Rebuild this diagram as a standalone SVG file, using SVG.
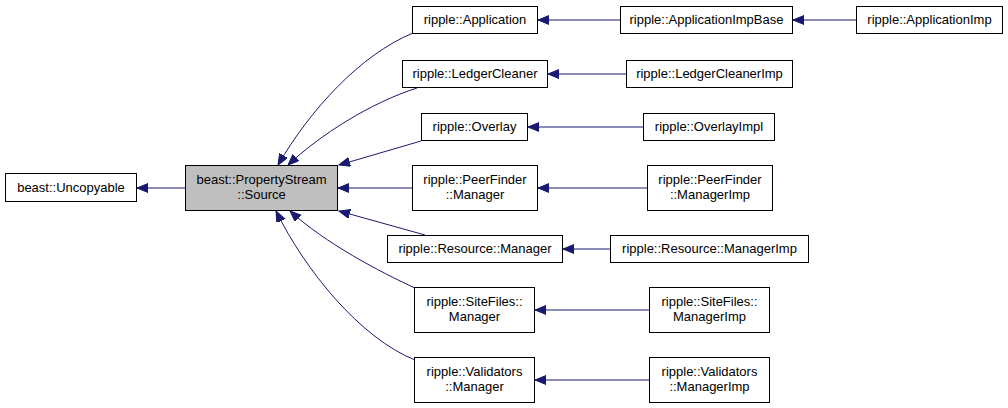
<svg xmlns="http://www.w3.org/2000/svg" width="1008" height="408" viewBox="0 0 1008 408">
<defs>
<style>
.box{fill:#ffffff;stroke:#000000;stroke-width:1}
.main{fill:#bfbfbf;stroke:#000000;stroke-width:1}
.t{font-family:"Liberation Sans",Arial,sans-serif;font-size:13px;fill:#000000;text-anchor:middle}
.e{fill:none;stroke:#191970;stroke-width:1;marker-end:url(#arr)}
</style>
<marker id="arr" markerUnits="userSpaceOnUse" markerWidth="12" markerHeight="10" refX="11" refY="4.5" orient="auto">
<path d="M0,0 L11,4.5 L0,9 z" fill="#191970" stroke="#191970" stroke-width="1"/>
</marker>
</defs>
<rect width="1008" height="408" fill="#ffffff"/>
<g id="connectors">
<path class="e" d="M185,188 H137"/>
<path class="e" d="M413,33 C360,55 310,110 278,165"/>
<path class="e" d="M417,88 C370,103 320,135 288,165"/>
<path class="e" d="M421,141 L339,165"/>
<path class="e" d="M412,188 H338"/>
<path class="e" d="M425,235 L339,211"/>
<path class="e" d="M415,288 C380,272 325,243 290,211"/>
<path class="e" d="M415,360 C360,338 305,270 276,211"/>
<path class="e" d="M620,20 H538"/>
<path class="e" d="M856,20 H793"/>
<path class="e" d="M626,74 H548"/>
<path class="e" d="M643,127 H528"/>
<path class="e" d="M647,188 H538"/>
<path class="e" d="M610,249 H563"/>
<path class="e" d="M649,310 H535"/>
<path class="e" d="M649,380 H535"/>
</g>
<g id="n_uncopyable"><rect class="box" x="5.5" y="173.5" width="131" height="28"/><text class="t" x="71" y="191.5">beast::Uncopyable</text></g>
<g id="n_source"><rect class="main" x="185.5" y="165.5" width="152" height="45"/><text class="t" x="261.5" y="184">beast::PropertyStream</text><text class="t" x="261.5" y="199">::Source</text></g>
<g id="n_application"><rect class="box" x="412.5" y="6.5" width="125" height="27"/><text class="t" x="475" y="23.5">ripple::Application</text></g>
<g id="n_ledgercleaner"><rect class="box" x="402.5" y="60.5" width="145" height="27"/><text class="t" x="475" y="77.5">ripple::LedgerCleaner</text></g>
<g id="n_overlay"><rect class="box" x="421.5" y="113.5" width="106" height="27"/><text class="t" x="474.5" y="130.5">ripple::Overlay</text></g>
<g id="n_peerfinder"><rect class="box" x="412.5" y="165.5" width="125" height="45"/><text class="t" x="475" y="184">ripple::PeerFinder</text><text class="t" x="475" y="199">::Manager</text></g>
<g id="n_resource"><rect class="box" x="387.5" y="235.5" width="175" height="27"/><text class="t" x="475" y="252.5">ripple::Resource::Manager</text></g>
<g id="n_sitefiles"><rect class="box" x="414.5" y="287.5" width="120" height="45"/><text class="t" x="474.5" y="306">ripple::SiteFiles::</text><text class="t" x="474.5" y="321">Manager</text></g>
<g id="n_validators"><rect class="box" x="414.5" y="357.5" width="120" height="45"/><text class="t" x="474.5" y="376">ripple::Validators</text><text class="t" x="474.5" y="391">::Manager</text></g>
<g id="n_appimpbase"><rect class="box" x="620.5" y="6.5" width="172" height="27"/><text class="t" x="706.5" y="23.5">ripple::ApplicationImpBase</text></g>
<g id="n_appimp"><rect class="box" x="856.5" y="6.5" width="146" height="27"/><text class="t" x="929.5" y="23.5">ripple::ApplicationImp</text></g>
<g id="n_ledgercleanerimp"><rect class="box" x="626.5" y="60.5" width="166" height="27"/><text class="t" x="709.5" y="77.5">ripple::LedgerCleanerImp</text></g>
<g id="n_overlayimpl"><rect class="box" x="643.5" y="113.5" width="131" height="27"/><text class="t" x="709" y="130.5">ripple::OverlayImpl</text></g>
<g id="n_peerfinderimp"><rect class="box" x="647.5" y="165.5" width="125" height="45"/><text class="t" x="710" y="184">ripple::PeerFinder</text><text class="t" x="710" y="199">::ManagerImp</text></g>
<g id="n_resourceimp"><rect class="box" x="610.5" y="235.5" width="198" height="27"/><text class="t" x="709.5" y="252.5">ripple::Resource::ManagerImp</text></g>
<g id="n_sitefilesimp"><rect class="box" x="649.5" y="287.5" width="120" height="45"/><text class="t" x="709.5" y="306">ripple::SiteFiles::</text><text class="t" x="709.5" y="321">ManagerImp</text></g>
<g id="n_validatorsimp"><rect class="box" x="649.5" y="357.5" width="120" height="45"/><text class="t" x="709.5" y="376">ripple::Validators</text><text class="t" x="709.5" y="391">::ManagerImp</text></g>
</svg>
